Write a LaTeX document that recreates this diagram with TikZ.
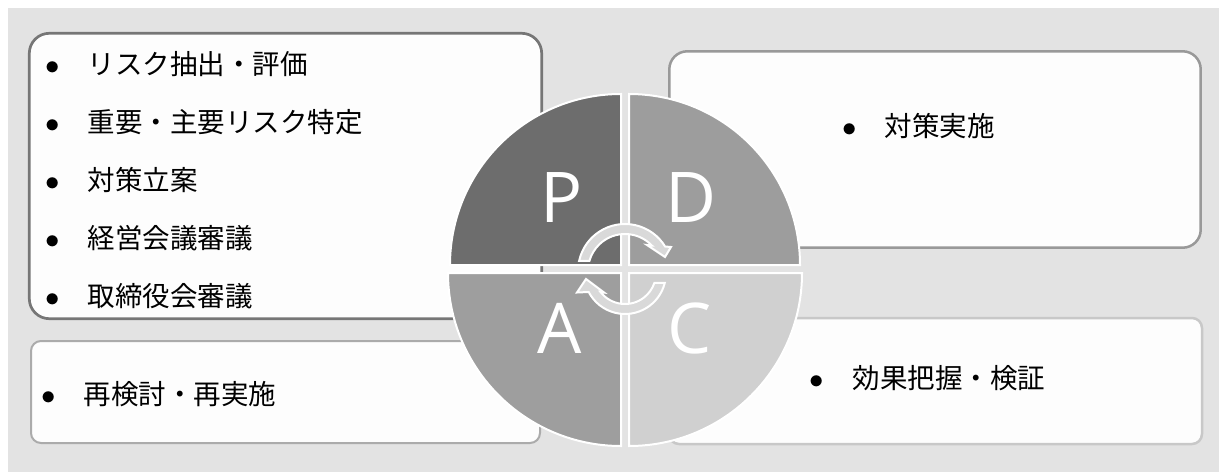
\documentclass[tikz,border=0pt]{standalone}
\usepackage{fontspec}
\newfontfamily\jpfont{Noto Sans CJK JP}
\newfontfamily\pdcafont{Open Sans}
\usetikzlibrary{positioning}
\definecolor{bggray}{HTML}{E3E3E3}
\definecolor{boxfill}{HTML}{FDFDFD}
\definecolor{planline}{HTML}{767676}
\definecolor{doline}{HTML}{999999}
\definecolor{actline}{HTML}{ABABAB}
\definecolor{checkline}{HTML}{C8C8C8}
\definecolor{plangray}{HTML}{6D6D6D}
\definecolor{dogray}{HTML}{9D9D9D}
\definecolor{actgray}{HTML}{9E9E9E}
\definecolor{checkgray}{HTML}{D0D0D0}
\definecolor{arrowgray}{HTML}{D9D9D9}
\newcommand{\bul}{\makebox[21.3pt][l]{$\bullet$}}

\begin{document}
\begin{tikzpicture}[
    x=0.5pt, y=0.5pt,
    node distance=14pt,
    phasebox/.style={rectangle, fill=boxfill, inner sep=0pt},
    itemtext/.style={font=\jpfont\fontsize{13.75}{16}\selectfont, inner sep=0pt,
                 text height=12pt, text depth=2.5pt},
    phaseletter/.style={font=\pdcafont\fontsize{35}{40}\selectfont, text=white, inner sep=0pt},
    quadrant/.style={draw=white, line width=1pt},
    cyclearrow/.style={fill=arrowgray, draw=white, line width=1pt},
]
\useasboundingbox (0,0) rectangle (1219,472);
\fill[bggray] (8,0) rectangle (1219,464);

% Boxes
\node[phasebox, draw=planline, line width=1.35pt, rounded corners=10pt,
      minimum width=256.2pt, minimum height=142.7pt] (planbox) at (285.5,296) {};
\node[phasebox, draw=actline, line width=1pt, rounded corners=5pt,
      minimum width=254.5pt, minimum height=51pt] (actbox) at (285.5,80) {};
\node[phasebox, draw=doline, line width=1.25pt, rounded corners=9pt,
      minimum width=265.7pt, minimum height=98.2pt] (dobox) at (935,322.5) {};
\node[phasebox, draw=checkline, line width=1.25pt, rounded corners=5pt,
      minimum width=266.5pt, minimum height=63pt] (checkbox) at (935.5,91) {};

% PDCA circle
\filldraw[quadrant, fill=plangray] (621,207) -- (450,207) arc[start angle=180, end angle=90, radius=171] -- cycle;
\filldraw[quadrant, fill=dogray] (629,207) -- (629,378) arc[start angle=90, end angle=0, radius=171] -- cycle;
\filldraw[quadrant, fill=actgray] (621,199) -- (621,26) arc[start angle=270, end angle=180, radius=173] -- cycle;
\filldraw[quadrant, fill=checkgray] (629,199) -- (802,199) arc[start angle=0, end angle=-90, radius=173] -- cycle;

\filldraw[cyclearrow, shift={(625,201)}] (167.7:47) arc[start angle=167.7, end angle=31.4, radius=47]
    -- (46,24) -- (40,14) -- (22,26) -- (43.6:37) arc[start angle=43.6, end angle=164.3, radius=37] -- cycle;
\filldraw[cyclearrow, shift={(625,199)}] (-14.1:41) arc[start angle=-14.1, end angle=-152.4, radius=41]
    -- (-48,-19.5) -- (-39,-6) -- (-21,-19.5) -- (-142.2:31) arc[start angle=-142.2, end angle=-18.8, radius=31] -- cycle;

\node[phaseletter] (pletter) at (561.5,274) {P};
\node[phaseletter] (dletter) at (691,274) {D};
\node[phaseletter] (aletter) at (560,144) {A};
\node[phaseletter] (cletter) at (690,144) {C};

% List items
\node[itemtext, anchor=base west] (plan1) at (44.9,397.1) {\bul リスク抽出・評価};
\node[itemtext, below=of plan1.south west, anchor=north west] (plan2) {\bul 重要・主要リスク特定};
\node[itemtext, below=of plan2.south west, anchor=north west] (plan3) {\bul 対策立案};
\node[itemtext, below=of plan3.south west, anchor=north west] (plan4) {\bul 経営会議審議};
\node[itemtext, below=of plan4.south west, anchor=north west] (plan5) {\bul 取締役会審議};

\node[itemtext, anchor=base west] (do1) at (841.7,335.1) {\bul 対策実施};
\node[itemtext, anchor=base west] (check1) at (809.5,83.4) {\bul 効果把握・検証};
\node[itemtext, anchor=base west] (act1) at (40.6,67.1) {\bul 再検討・再実施};

\end{tikzpicture}
\end{document}
